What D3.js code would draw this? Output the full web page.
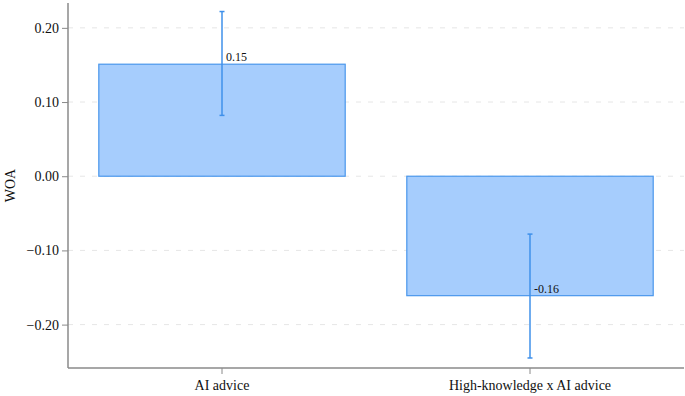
<!DOCTYPE html>
<html>
<head>
<meta charset="utf-8">
<script src="https://cdn.jsdelivr.net/npm/d3@7"></script>
<style>
  body { margin: 0; background: #fff; }
  svg { display: block; }
  svg text { font-family: "Liberation Serif", "Times New Roman", Times, "DejaVu Serif", serif !important; }
</style>
</head>
<body>
<svg id="chart" width="685" height="396"></svg>
<script>
const categories = ["AI advice", "High-knowledge x AI advice"];
const values = [0.151, -0.161];
const errLow = [0.082, -0.245];
const errHigh = [0.222, -0.078];
const valueLabels = ["0.15", "-0.16"];
const yTicks = [0.20, 0.10, 0.00, -0.10, -0.20];
const yLabel = "WOA";

const svg = d3.select("#chart");
const mLeft = 68, mRight = 684, mTop = 3, mBottom = 368;

const x = d3.scaleBand().domain(categories).range([mLeft, mRight]).paddingInner(0.2).paddingOuter(0.1);
const y = d3.scaleLinear().domain([-0.2585, 0.2335]).range([mBottom, mTop]);

// gridlines
svg.append("g").selectAll("line").data(yTicks).join("line")
  .attr("x1", mLeft).attr("x2", mRight)
  .attr("y1", d => y(d)).attr("y2", d => y(d))
  .attr("stroke", "#e6e6e6").attr("stroke-width", 1).attr("stroke-dasharray", "5,7");

// bars
svg.append("g").selectAll("rect").data(categories).join("rect")
  .attr("x", d => x(d))
  .attr("width", x.bandwidth())
  .attr("y", (d, i) => y(Math.max(0, values[i])))
  .attr("height", (d, i) => Math.abs(y(values[i]) - y(0)))
  .attr("fill", "#a6cdfd")
  .attr("stroke", "#4a97ec").attr("stroke-width", 1.2);

// error bars
const eg = svg.append("g").attr("stroke", "#3f90ea").attr("stroke-width", 1.5);
categories.forEach((c, i) => {
  const cx = x(c) + x.bandwidth() / 2;
  eg.append("line").attr("x1", cx).attr("x2", cx).attr("y1", y(errHigh[i])).attr("y2", y(errLow[i]));
  eg.append("line").attr("x1", cx - 2.5).attr("x2", cx + 2.5).attr("y1", y(errHigh[i])).attr("y2", y(errHigh[i]));
  eg.append("line").attr("x1", cx - 2.5).attr("x2", cx + 2.5).attr("y1", y(errLow[i])).attr("y2", y(errLow[i]));
});

// value labels
svg.append("g").selectAll("text").data(categories).join("text")
  .attr("x", d => x(d) + x.bandwidth() / 2 + 4)
  .attr("y", (d, i) => y(values[i]) - 3)
  .attr("font-size", 12).attr("fill", "#111")
  .text((d, i) => valueLabels[i]);

// y axis
const yAxis = svg.append("g").attr("transform", `translate(${mLeft},0)`)
  .call(d3.axisLeft(y).tickValues(yTicks).tickFormat(d3.format(".2f")).tickSize(6).tickSizeOuter(0));
yAxis.select(".domain").attr("stroke", "#8a8a8a").attr("stroke-width", 1.5)
  .attr("d", `M0,${mTop}V${mBottom}`);
yAxis.selectAll(".tick line").attr("stroke", "#8a8a8a");
yAxis.selectAll(".tick text").attr("font-size", 14).attr("fill", "#111").attr("x", -9);

// x axis
const xAxis = svg.append("g").attr("transform", `translate(0,${mBottom})`)
  .call(d3.axisBottom(x).tickSize(6).tickSizeOuter(0));
xAxis.select(".domain").attr("stroke", "#8a8a8a").attr("stroke-width", 1.5)
  .attr("d", `M${mLeft},0H${mRight}`);
xAxis.selectAll(".tick line").attr("stroke", "#8a8a8a");
xAxis.selectAll(".tick text").attr("font-size", 14).attr("fill", "#111").attr("y", 12);

// y label
svg.append("text")
  .attr("transform", `translate(15,${(mTop + mBottom) / 2}) rotate(-90)`)
  .attr("text-anchor", "middle")
  .attr("font-size", 14).attr("fill", "#111")
  .text(yLabel);
</script>
</body>
</html>
